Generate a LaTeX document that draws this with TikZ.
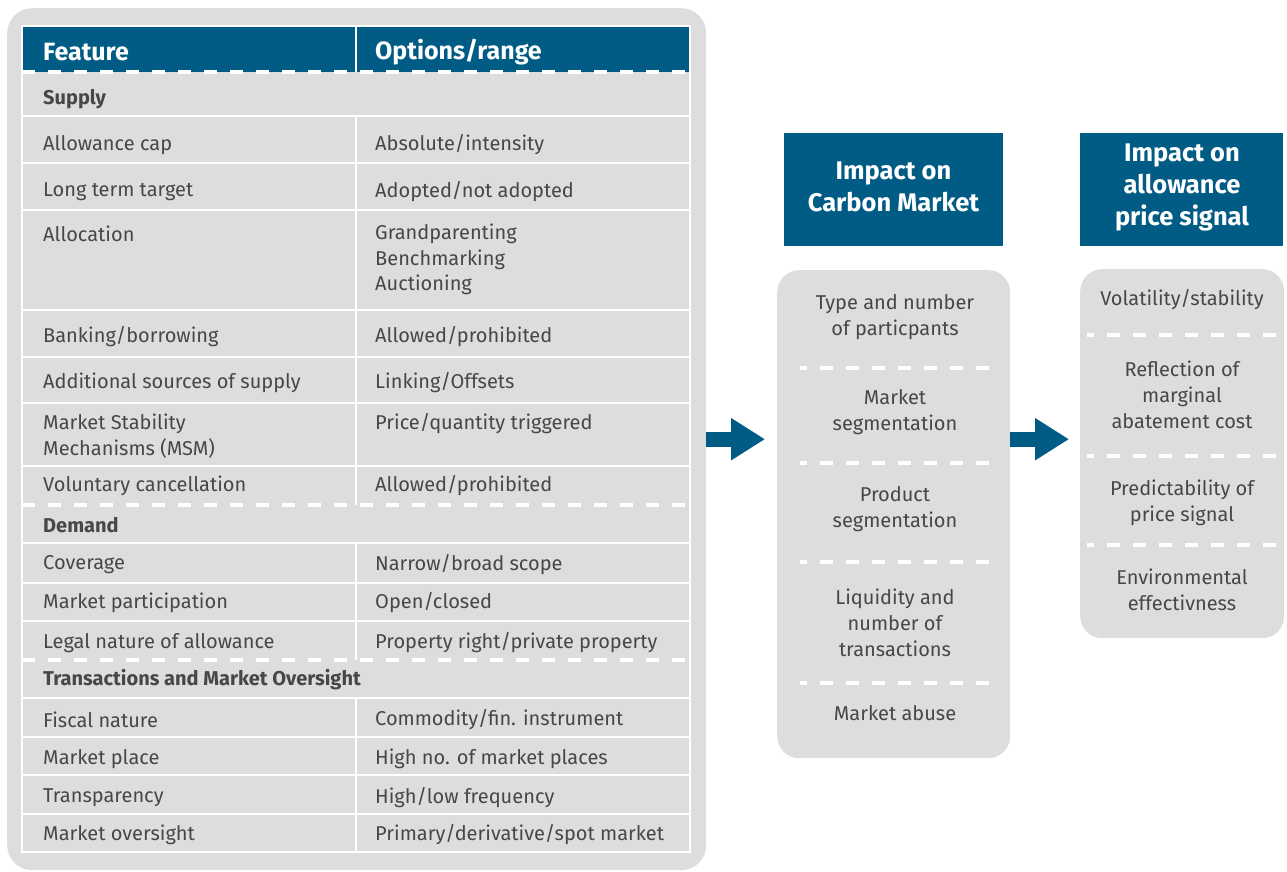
\documentclass[tikz,border=0pt]{standalone}
\usepackage{fontspec}
\setmainfont{Fira Sans}
\usetikzlibrary{arrows.meta}
\definecolor{tblue}{HTML}{005C84}
\definecolor{tgray}{HTML}{DDDDDD}
\definecolor{ttext}{HTML}{474747}
\begin{document}
\begin{tikzpicture}[x=1pt,y=-1pt,
  cell/.style={anchor=west, inner sep=0pt, yshift=-2pt, text=ttext, font=\fontsize{20}{25.5}\selectfont, align=left},
  sect/.style={anchor=west, inner sep=0pt, yshift=-2pt, text=ttext, font=\fontsize{20}{25.5}\selectfont\bfseries},
  hdr/.style={anchor=west, inner sep=0pt, yshift=-2pt, text=white, font=\fontsize{25}{30}\selectfont\bfseries},
  item/.style={inner sep=0pt, yshift=-2pt, text=ttext, font=\fontsize{20}{26}\selectfont, align=center},
  bluebox/.style={fill=tblue, anchor=north west, inner sep=0pt},
  bluetext/.style={text=white, font=\fontsize{25.5}{32}\selectfont\bfseries, align=center, inner sep=0pt},
  panel/.style={fill=tgray, rounded corners=22pt, anchor=north west, inner sep=0pt},
  rule/.style={white, line width=2pt},
  dashrule/.style={white, line width=3.5pt, dash pattern=on 13pt off 13pt},
  bigarrow/.style={tblue, line width=15pt, -{Triangle[length=34pt,width=40pt]}}
]
\useasboundingbox (0,0) rectangle (1287,872);

% table panel
\node[panel, rounded corners=25pt, minimum width=699pt, minimum height=862pt] (tbl) at (7,8) {};
\fill[tblue] (22,26) rectangle (690,72);
\draw[rule] (22,26) rectangle (690,852);
\foreach \y in {116,163,210,310,357,403,466,543,583,621,698,737,775,814}
  \draw[rule] (22,\y) -- (690,\y);
\draw[rule] (356,26) -- (356,72);
\draw[rule] (356,116) -- (356,505);
\draw[rule] (356,543) -- (356,660);
\draw[rule] (356,698) -- (356,852);
\foreach \y in {72,505,660}
  \draw[dashrule] (22,\y) -- (690,\y);

% header
\node[hdr] (hfeat) at (43,50) {Feature};
\node[hdr] (hopt) at (375,50) {Options/range};

% rows
\node[sect] (supply) at (43,97) {Supply};
\node[cell] (f1) at (43,143) {Allowance cap};
\node[cell] (o1) at (375,143) {Absolute/intensity};
\node[cell] (f2) at (43,190) {Long term target};
\node[cell] (o2) at (375,190) {Adopted/not adopted};
\node[cell] (f3) at (43,232) {Allocation};
\node[cell] (o3) at (375,257.5) {Grandparenting\\Benchmarking\\Auctioning};
\node[cell] (f4) at (43,335) {Banking/borrowing};
\node[cell] (o4) at (375,335) {Allowed/prohibited};
\node[cell] (f5) at (43,381) {Additional sources of supply};
\node[cell] (o5) at (375,381) {Linking/Offsets};
\node[cell] (f6) at (43,434) {Market Stability\\Mechanisms (MSM)};
\node[cell] (o6) at (375,422) {Price/quantity triggered};
\node[cell] (f7) at (43,484) {Voluntary cancellation};
\node[cell] (o7) at (375,484) {Allowed/prohibited};
\node[sect] (demand) at (43,523) {Demand};
\node[cell] (f8) at (43,563) {Coverage};
\node[cell] (o8) at (375,563) {Narrow/broad scope};
\node[cell] (f9) at (43,601) {Market participation};
\node[cell] (o9) at (375,601) {Open/closed};
\node[cell] (f10) at (43,641) {Legal nature of allowance};
\node[cell] (o10) at (375,641) {Property right/private property};
\node[sect] (trans) at (43,678) {Transactions and Market Oversight};
\node[cell] (f11) at (43,718) {Fiscal nature};
\node[cell] (o11) at (375,718) {Commodity/fin. instrument};
\node[cell] (f12) at (43,757) {Market place};
\node[cell] (o12) at (375,757) {High no. of market places};
\node[cell] (f13) at (43,796) {Transparency};
\node[cell] (o13) at (375,796) {High/low frequency};
\node[cell] (f14) at (43,833) {Market oversight};
\node[cell] (o14) at (375,833) {Primary/derivative/spot market};

% blue headings
\node[bluebox, minimum width=219pt, minimum height=113pt] (h1) at (784,133) {};
\node[bluebox, minimum width=203pt, minimum height=113pt] (h2) at (1080,133) {};
\node[bluetext] (h1t) at (893.5,187) {Impact on\\Carbon Market};
\node[bluetext] (h2t) at (1182,187.5) {Impact on\\allowance\\price signal};

% panels
\node[panel, minimum width=233pt, minimum height=488pt] (p1) at (777,270) {};
\node[panel, minimum width=204pt, minimum height=369pt] (p2) at (1080,269) {};

\node[item] (m1) at (895,315) {Type and number\\of particpants};
\node[item] (m2) at (895,410.5) {Market\\segmentation};
\node[item] (m3) at (895,507) {Product\\segmentation};
\node[item] (m4) at (895,620.5) {Liquidity and\\number of\\transactions};
\node[item] (m5) at (895,711) {Market abuse};
\foreach \y in {368,463,562,683}
  \draw[dashrule, dash phase=6pt] (800,\y) -- (991,\y);

\node[item] (s1) at (1182,298) {Volatility/stability};
\node[item] (s2) at (1182,392.5) {Reflection of\\marginal\\abatement cost};
\node[item] (s3) at (1182,500.5) {Predictability of\\price signal};
\node[item] (s4) at (1182,587.5) {Environmental\\effectivness};
\foreach \y in {335,456,545}
  \draw[dashrule, dash phase=6pt] (1087,\y) -- (1278,\y);

% arrows
\draw[bigarrow, shorten >=12pt] (tbl.east) -- (tbl.east -| p1.west);
\draw[bigarrow, shorten >=11pt] (p1.east |- tbl.east) -- (tbl.east -| p2.west);
\end{tikzpicture}
\end{document}
